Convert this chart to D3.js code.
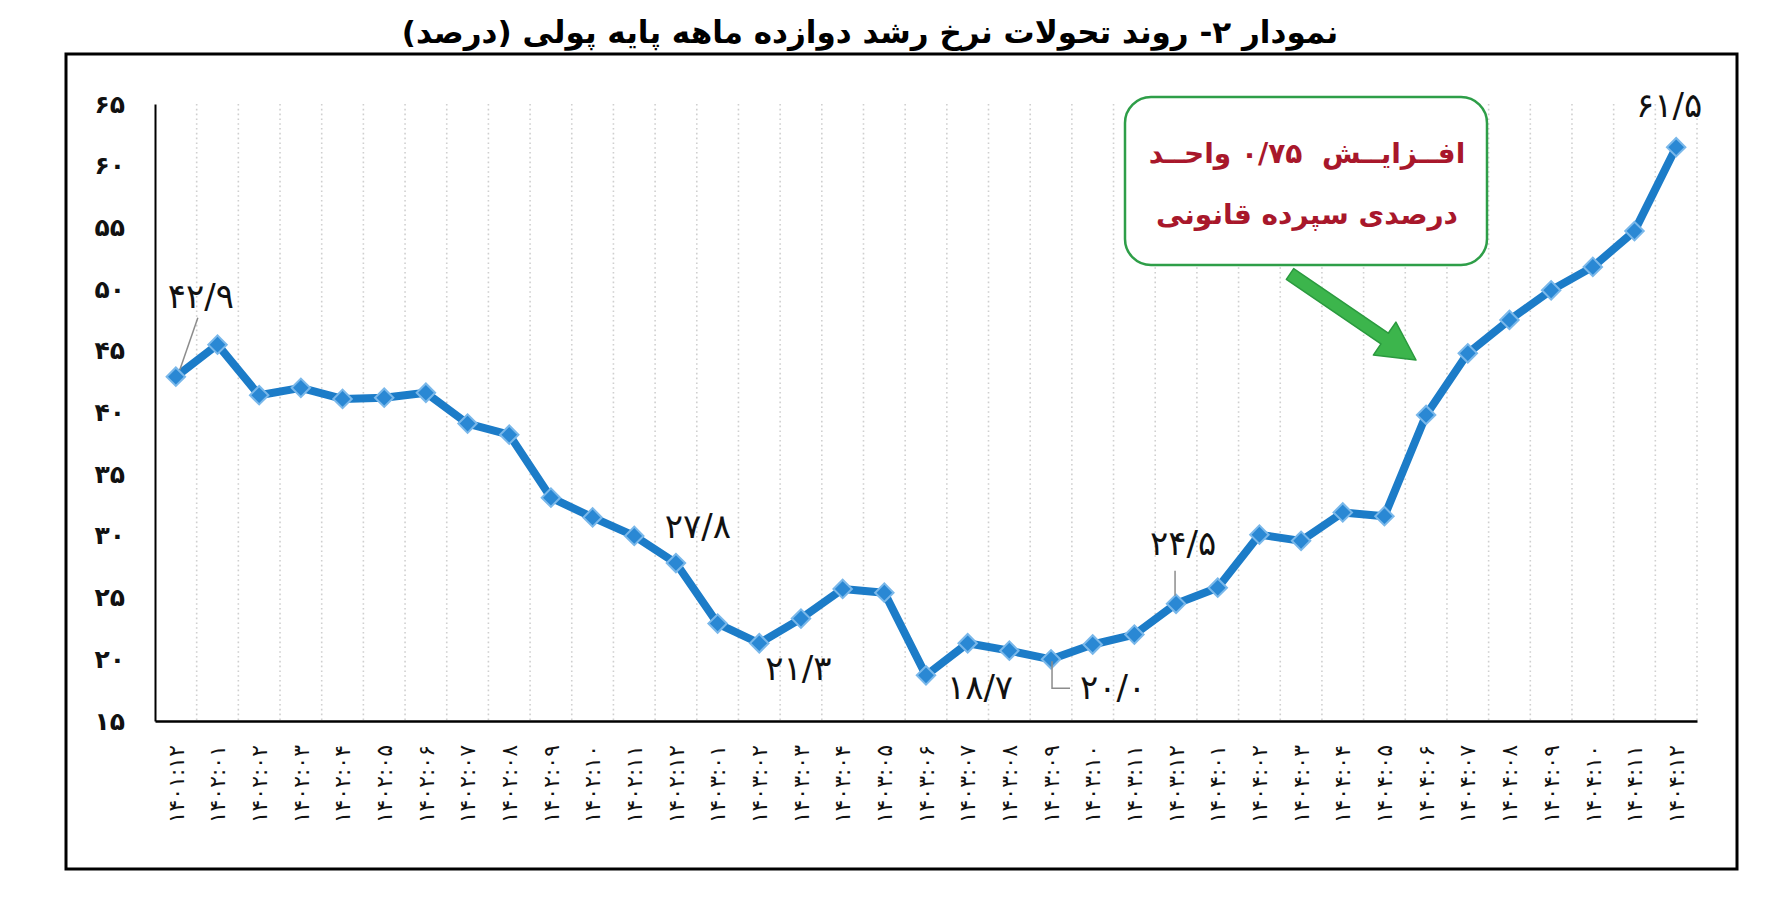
<!DOCTYPE html>
<html>
<head>
<meta charset="utf-8">
<script src="https://cdn.jsdelivr.net/npm/d3@7"></script>
<style>
  body { margin: 0; background: #fff; }
  text { font-family: "DejaVu Sans", sans-serif; }
</style>
</head>
<body>
<div id="chart"></div>
<script>
// data
const months = [
  "1401:12",
  "1402:01", "1402:02", "1402:03", "1402:04", "1402:05", "1402:06",
  "1402:07", "1402:08", "1402:09", "1402:10", "1402:11", "1402:12",
  "1403:01", "1403:02", "1403:03", "1403:04", "1403:05", "1403:06",
  "1403:07", "1403:08", "1403:09", "1403:10", "1403:11", "1403:12",
  "1404:01", "1404:02", "1404:03", "1404:04", "1404:05", "1404:06",
  "1404:07", "1404:08", "1404:09", "1404:10", "1404:11", "1404:12"
];
const growth = [
  42.9, 45.5, 41.4, 42.0, 41.1, 41.2, 41.6, 39.1, 38.2, 33.1,
  31.5, 30.0, 27.8, 22.9, 21.3, 23.3, 25.7, 25.4, 18.7, 21.3,
  20.7, 20.0, 21.2, 22.0, 24.5, 25.8, 30.1, 29.6, 31.9, 31.6,
  39.8, 44.8, 47.5, 49.9, 51.8, 54.7, 61.5
];
const yTicks = [15, 20, 25, 30, 35, 40, 45, 50, 55, 60, 65];
const labelledPoints = [0, 12, 14, 18, 21, 24, 36];

const title = "نمودار ۲- روند تحولات نرخ رشد دوازده ماهه پایه پولی (درصد)";
const noteLines = ["افــزایــش  ۰/۷۵ واحــد", "درصدی سپرده قانونی"];

const faDigits = "۰۱۲۳۴۵۶۷۸۹";
const toFa = (s) => String(s).replace(/[0-9]/g, (c) => faDigits[+c]);
const fmtValue = (v) => toFa(v.toFixed(1)).replace(".", "/");

const width = 1772, height = 906;
const plot = { left: 155, right: 1697, top: 104, bottom: 721 };

const svg = d3.select("#chart").append("svg")
  .attr("width", width)
  .attr("height", height);

// outer frame
svg.append("rect")
  .attr("x", 66).attr("y", 54)
  .attr("width", 1671).attr("height", 815)
  .attr("fill", "none")
  .attr("stroke", "#000")
  .attr("stroke-width", 3);

svg.append("text")
  .attr("x", 870).attr("y", 43)
  .attr("text-anchor", "middle")
  .style("direction", "rtl")
  .attr("font-size", 31)
  .attr("font-weight", "bold")
  .attr("fill", "#000")
  .text(title);

const x = d3.scaleBand()
  .domain(months)
  .range([plot.left, plot.right])
  .padding(0);
const cx = (i) => x(months[i]) + x.bandwidth() / 2;

const y = d3.scaleLinear()
  .domain([15, 65])
  .range([plot.bottom, plot.top]);

// dotted vertical gridlines at category borders
const borders = months.slice(1).map((m) => x(m)).concat([plot.right]);
svg.append("g")
  .selectAll("line")
  .data(borders)
  .join("line")
  .attr("x1", (d) => d).attr("x2", (d) => d)
  .attr("y1", plot.top).attr("y2", plot.bottom)
  .attr("stroke", "#cfcfcf")
  .attr("stroke-width", 1.6)
  .attr("stroke-dasharray", "1.6,3.2");

// axes
const yAxis = svg.append("g")
  .attr("transform", `translate(${plot.left},0)`)
  .call(d3.axisLeft(y).tickValues(yTicks).tickSize(0).tickPadding(30).tickFormat(toFa));
yAxis.select(".domain").attr("stroke", "#000").attr("stroke-width", 2);
yAxis.selectAll("text")
  .attr("font-size", 25)
  .attr("font-weight", "bold")
  .attr("fill", "#111");

const xAxis = svg.append("g")
  .attr("transform", `translate(0,${plot.bottom})`)
  .call(d3.axisBottom(x).tickSize(0).tickFormat(toFa));
xAxis.select(".domain").attr("stroke", "#000").attr("stroke-width", 2.5);
xAxis.selectAll("text")
  .attr("font-size", 22)
  .attr("letter-spacing", "6px")
  .attr("fill", "#111")
  .attr("text-anchor", "end")
  .attr("dy", "0.35em")
  .attr("transform", "translate(0,24) rotate(-90)")
  .attr("x", 0).attr("y", 0);

// series line
const line = d3.line()
  .x((d, i) => cx(i))
  .y((d) => y(d));

svg.append("path")
  .datum(growth)
  .attr("d", line)
  .attr("fill", "none")
  .attr("stroke", "#1c7cc8")
  .attr("stroke-width", 8)
  .attr("stroke-linejoin", "round");

svg.append("g")
  .selectAll("path")
  .data(growth)
  .join("path")
  .attr("d", d3.symbol(d3.symbolSquare, 170))
  .attr("transform", (d, i) => `translate(${cx(i)},${y(d)}) rotate(45)`)
  .attr("fill", "#2a88d4")
  .attr("stroke", "#7ab8ea")
  .attr("stroke-width", 2);

// data labels, offsets from their point
const labelOffset = {
  0: { dx: 25, dy: -81, leader: [[22, -59], [4, -7]] },
  12: { dx: 22, dy: -37 },
  14: { dx: 39, dy: 25 },
  18: { dx: 54, dy: 12 },
  21: { dx: 62, dy: 28, leader: [[1, 2], [1, 29], [19, 29]] },
  24: { dx: 7, dy: -61, leader: [[-1, -33], [-1, -8]] },
  36: { dx: -7, dy: -42 }
};

const labels = svg.append("g");
labelledPoints.forEach((i) => {
  const px = cx(i), py = y(growth[i]);
  const o = labelOffset[i];
  if (o.leader) {
    labels.append("path")
      .attr("d", d3.line()(o.leader.map(([a, b]) => [px + a, py + b])))
      .attr("fill", "none")
      .attr("stroke", "#8c8c8c")
      .attr("stroke-width", 1.5);
  }
  labels.append("text")
    .attr("x", px + o.dx).attr("y", py + o.dy)
    .attr("text-anchor", "middle")
    .attr("dominant-baseline", "central")
    .attr("font-size", 34)
    .attr("fill", "#111")
    .text(fmtValue(growth[i]));
});

// annotation box
svg.append("rect")
  .attr("x", 1125).attr("y", 97)
  .attr("width", 362).attr("height", 168)
  .attr("rx", 26)
  .attr("fill", "#fff")
  .attr("stroke", "#2e9e48")
  .attr("stroke-width", 2.5);

svg.append("g")
  .selectAll("text")
  .data(noteLines)
  .join("text")
  .attr("x", 1307)
  .attr("y", (d, i) => 163 + i * 61)
  .attr("text-anchor", "middle")
  .style("direction", "rtl")
  .style("white-space", "pre")
  .attr("font-size", 28)
  .attr("font-weight", "bold")
  .attr("fill", "#a8172b")
  .text((d) => d);

// green arrow toward the jump
const arrowFrom = [1290, 274], arrowTo = [1416, 360];
const ang = Math.atan2(arrowTo[1] - arrowFrom[1], arrowTo[0] - arrowFrom[0]) * 180 / Math.PI;
const len = Math.hypot(arrowTo[0] - arrowFrom[0], arrowTo[1] - arrowFrom[1]);
svg.append("path")
  .attr("transform", `translate(${arrowFrom[0]},${arrowFrom[1]}) rotate(${ang})`)
  .attr("d", `M0,-6.5 L${len - 38},-6.5 L${len - 38},-20 L${len},0 L${len - 38},20 L${len - 38},6.5 L0,6.5 Z`)
  .attr("fill", "#3cb54c")
  .attr("stroke", "#2a9a3e")
  .attr("stroke-width", 1.5)
  .attr("stroke-linejoin", "round");
</script>
</body>
</html>
